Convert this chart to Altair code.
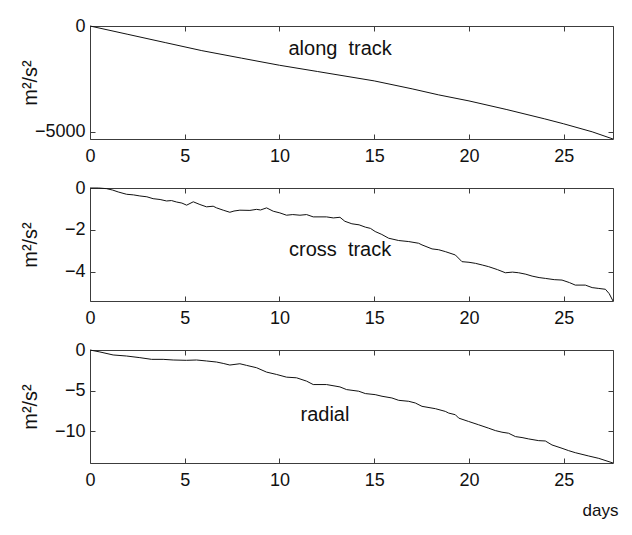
import altair as alt
import pandas as pd

FONT = "Liberation Sans"
FRAME = "#3c3c3c"
INK = "#111111"

days_max = 27.6
x_ticks = [0, 5, 10, 15, 20, 25]

along_days = [0, 2, 4, 5.9, 8, 10, 12, 15, 17, 18.4, 20, 22, 24, 25, 26.5, 27.6]
along_vals = [0, -395, -790, -1164, -1520, -1855, -2150, -2594, -2970, -3255,
              -3540, -3950, -4390, -4623, -5000, -5340]

cross_days = [0, 0.45, 0.87, 1.2, 1.49, 1.93, 2.3, 2.63, 3.0, 3.33, 3.7, 4.04, 4.3,
              4.57, 4.85, 5.10, 5.45, 5.80, 6.15, 6.50, 6.68, 7.03, 7.38, 7.6, 7.91,
              8.44, 8.79, 9.0, 9.32, 9.67, 10.02, 10.37, 10.7, 11.08, 11.43, 11.78,
              12.48, 12.84, 13.19, 13.45, 13.82, 14.2, 14.53, 14.8, 15.05, 15.4,
              15.76, 16.29, 16.82, 17.34, 17.52, 18.05, 18.4, 18.75, 19.28, 19.63,
              20.0, 20.34, 20.7, 21.04, 21.5, 21.92, 22.3, 22.62, 23.0, 23.33, 23.7,
              24.03, 24.5, 24.91, 25.3, 25.61, 26.14, 26.5, 26.85, 27.2, 27.4, 27.6]
cross_vals = [0, 0.0, -0.03, -0.10, -0.19, -0.30, -0.33, -0.38, -0.42, -0.51, -0.55,
              -0.62, -0.60, -0.67, -0.72, -0.82, -0.66, -0.79, -0.90, -0.87, -0.95,
              -1.06, -1.16, -1.10, -1.06, -1.07, -1.02, -1.05, -0.95, -1.11, -1.19,
              -1.30, -1.27, -1.30, -1.27, -1.38, -1.38, -1.43, -1.40, -1.59, -1.71,
              -1.76, -1.87, -1.93, -2.08, -2.22, -2.40, -2.51, -2.56, -2.64, -2.72,
              -2.91, -2.95, -3.04, -3.20, -3.52, -3.55, -3.60, -3.68, -3.76, -3.90,
              -4.05, -4.02, -4.05, -4.12, -4.21, -4.28, -4.32, -4.38, -4.40, -4.52,
              -4.64, -4.64, -4.76, -4.80, -4.84, -5.05, -5.40]

radial_days = [0, 0.52, 1.22, 1.93, 2.63, 3.25, 3.86, 4.39, 5.09, 5.62, 6.15, 6.68,
               7.03, 7.38, 7.91, 8.26, 8.79, 9.32, 9.85, 10.37, 10.90, 11.43, 11.78,
               12.48, 13.19, 13.54, 14.18, 14.53, 15.05, 15.41, 15.93, 16.29, 16.82,
               17.17, 17.52, 18.23, 18.75, 18.93, 19.28, 19.46, 19.98, 20.51, 21.04,
               21.39, 21.74, 22.09, 22.45, 22.80, 23.15, 23.68, 24.03, 24.38, 24.91,
               25.26, 25.61, 26.32, 26.85, 27.6]
radial_vals = [0, -0.24, -0.61, -0.74, -0.94, -1.15, -1.15, -1.23, -1.27, -1.23, -1.35,
               -1.48, -1.65, -1.85, -1.69, -1.89, -2.18, -2.72, -3.01, -3.34, -3.42,
               -3.83, -4.25, -4.25, -4.54, -4.87, -5.07, -5.36, -5.49, -5.69, -5.90,
               -6.19, -6.31, -6.52, -6.93, -7.22, -7.55, -7.76, -7.96, -8.38, -8.79,
               -9.20, -9.62, -9.91, -10.11, -10.24, -10.65, -10.77, -10.94, -11.15,
               -11.19, -11.68, -12.09, -12.38, -12.63, -13.04, -13.33, -13.9]

panel_labels = ["along\u00a0 track", "cross\u00a0 track", "radial"]
label_days = [13.2, 13.2, 12.4]
label_vals = [-1100, -2.95, -8.0]
y_mins = [-5340, -5.40, -13.9]
y_ticks = [[0, -5000], [0, -2, -4], [0, -5, -10]]
y_title = "m²/s²"
x_title = "days"

W, H = 523, 113


def panel(days, vals, name, lx, ly, ymin, yticks, last):
    df = pd.DataFrame({"day": days, "val": vals})
    lab = pd.DataFrame({"day": [lx], "val": [ly], "name": [name]})
    xs = alt.Scale(domain=[0, days_max], nice=False, zero=False)
    ys = alt.Scale(domain=[ymin, 0], nice=False, zero=False)

    xb = dict(orient="bottom", values=x_ticks, offset=-5, tickSize=5, domain=False,
              grid=False, format="d", labelPadding=8, labelFlush=False)
    if last:
        xb.update(title=x_title, titleX=528, titleY=57, titleAlign="right",
                  titleAnchor="start", titleBaseline="alphabetic", titleFontSize=17)
    else:
        xb.update(title=None)
    yl = alt.Axis(orient="left", values=yticks, offset=-5, tickSize=5, domain=False,
                  grid=False, format="d", labelPadding=5, labelFlush=False,
                  title=y_title, titleX=-59, titleY=H / 2, titleAngle=270,
                  titleAlign="center", titleBaseline="alphabetic", titleFontSize=20)
    xt = alt.Axis(orient="top", values=x_ticks, offset=-5, tickSize=5, domain=False,
                  grid=False, labels=False, title=None)
    yr = alt.Axis(orient="right", values=yticks, offset=-5, tickSize=5, domain=False,
                  grid=False, labels=False, title=None)

    line = alt.Chart(df).mark_line(color=INK, strokeWidth=1).encode(
        x=alt.X("day:Q", scale=xs, axis=alt.Axis(**xb)),
        y=alt.Y("val:Q", scale=ys, axis=yl),
    )
    ghost = alt.Chart(df).mark_line(opacity=0).encode(
        x=alt.X("day:Q", scale=xs, axis=xt),
        y=alt.Y("val:Q", scale=ys, axis=yr),
    )
    text = alt.Chart(lab).mark_text(font=FONT, fontSize=20, align="center",
                                    baseline="middle", color=INK).encode(
        x=alt.X("day:Q", scale=xs, axis=None),
        y=alt.Y("val:Q", scale=ys, axis=None),
        text="name:N",
    )
    return alt.layer(line, text, ghost).resolve_axis(
        x="independent", y="independent").properties(width=W, height=H)


series = [(along_days, along_vals), (cross_days, cross_vals), (radial_days, radial_vals)]
panels = [
    panel(d, v, panel_labels[i], label_days[i], label_vals[i], y_mins[i], y_ticks[i], i == 2)
    for i, (d, v) in enumerate(series)
]

chart = alt.vconcat(*panels, spacing=49, bounds="flush").properties(
    padding={"left": 11, "top": 8, "right": 5, "bottom": 5},
    background="white",
).configure_view(stroke=FRAME, strokeWidth=1).configure_axis(
    labelFont=FONT, labelFontSize=18, labelColor=INK, titleFont=FONT,
    titleColor=INK, titleFontWeight="normal", tickColor=FRAME, tickWidth=1,
)

chart.save("out.html", embed_options={"renderer": "svg", "actions": False})
